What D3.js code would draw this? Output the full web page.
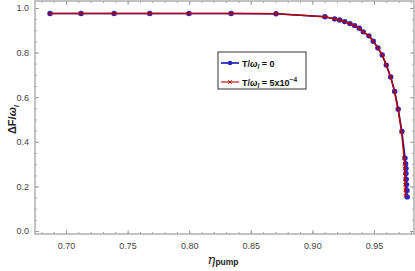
<!DOCTYPE html>
<html>
<head>
<meta charset="utf-8">
<script src="https://cdn.jsdelivr.net/npm/d3@7"></script>
<style>
  body { margin: 0; background: #fff; }
  svg { font-family: "Liberation Sans", Arial, sans-serif; }
  .tick text { fill: #444; font-size: 9px; }
</style>
</head>
<body>
<script>
var width = 415, height = 271;
var margin = { top: 1, right: 1, bottom: 37, left: 35 };

// T/omega = 0
var etaA = [0.687, 0.7122, 0.739, 0.768, 0.7998, 0.834, 0.8705, 0.9102, 0.9181, 0.9222, 0.9262, 0.9305,
            0.9343, 0.9381, 0.9413, 0.9459, 0.9494, 0.9532, 0.9567, 0.9600, 0.9636, 0.9668, 0.9697,
            0.9727, 0.9752, 0.9757, 0.9760, 0.9760, 0.9762, 0.9765, 0.9768, 0.9770];
var dfA = [0.975, 0.975, 0.975, 0.975, 0.975, 0.975, 0.974, 0.961, 0.951, 0.946, 0.939, 0.930,
           0.921, 0.909, 0.893, 0.875, 0.851, 0.821, 0.789, 0.744, 0.691, 0.626, 0.546,
           0.446, 0.327, 0.302, 0.280, 0.258, 0.232, 0.208, 0.182, 0.153];
// T/omega = 5e-4
var etaB = [0.687, 0.7122, 0.739, 0.768, 0.7998, 0.834, 0.8705, 0.9102, 0.9181, 0.9222, 0.9262, 0.9305,
            0.9343, 0.9381, 0.9413, 0.9459, 0.9494, 0.9532, 0.9567, 0.9600, 0.9635, 0.9667, 0.9695,
            0.9724, 0.9745, 0.9748, 0.9750, 0.9751, 0.9752, 0.9753, 0.9754, 0.9755];
var dfB = [0.975, 0.975, 0.975, 0.975, 0.975, 0.975, 0.974, 0.961, 0.951, 0.946, 0.939, 0.930,
           0.921, 0.909, 0.893, 0.875, 0.851, 0.821, 0.789, 0.744, 0.691, 0.626, 0.546,
           0.446, 0.327, 0.302, 0.280, 0.258, 0.232, 0.208, 0.182, 0.158];

var xTicks = [0.70, 0.75, 0.80, 0.85, 0.90, 0.95];
var yTicks = [0.0, 0.2, 0.4, 0.6, 0.8, 1.0];

var svg = d3.select('body').append('svg').attr('width', width).attr('height', height);

var x = d3.scaleLinear().domain([0.6748, 0.9825]).range([margin.left, width - margin.right]);
var y = d3.scaleLinear().domain([-0.0134, 1.0313]).range([height - margin.bottom, margin.top]);

var xMinor = d3.range(0.68, 0.981, 0.01);
var yMinor = d3.range(0, 1.0301, 0.05);

var frameCol = '#b4b4b4';

// frame ticks (inward)
function addAxis(axis, tr) {
  var g = svg.append('g').attr('transform', tr).call(axis);
  g.select('.domain').remove();
  g.selectAll('.tick line').attr('stroke', '#888').attr('stroke-width', 0.8);
  return g;
}
var bx = 'translate(0,' + (height - margin.bottom) + ')';
var tx = 'translate(0,' + margin.top + ')';
var lx = 'translate(' + margin.left + ',0)';
var rx = 'translate(' + (width - margin.right) + ',0)';

addAxis(d3.axisBottom(x).tickValues(xMinor).tickSize(-2).tickFormat(''), bx);
addAxis(d3.axisTop(x).tickValues(xMinor).tickSize(-2).tickFormat(''), tx);
addAxis(d3.axisLeft(y).tickValues(yMinor).tickSize(-2).tickFormat(''), lx);
addAxis(d3.axisRight(y).tickValues(yMinor).tickSize(-2).tickFormat(''), rx);

addAxis(d3.axisBottom(x).tickValues(xTicks).tickSize(-4).tickPadding(9).tickFormat(d3.format('.2f')), bx);
addAxis(d3.axisTop(x).tickValues(xTicks).tickSize(-4).tickFormat(''), tx);
addAxis(d3.axisLeft(y).tickValues(yTicks).tickSize(-4).tickPadding(6).tickFormat(d3.format('.1f')), lx);
addAxis(d3.axisRight(y).tickValues(yTicks).tickSize(-4).tickFormat(''), rx);

svg.append('rect')
  .attr('x', margin.left).attr('y', margin.top)
  .attr('width', width - margin.left - margin.right)
  .attr('height', height - margin.top - margin.bottom)
  .attr('fill', 'none').attr('stroke', frameCol).attr('stroke-width', 1.6);

var blue = '#1414b4', red = '#b40000';

var dataA = etaA.map(function (d, i) { return [d, dfA[i]]; });
var dataB = etaB.map(function (d, i) { return [d, dfB[i]]; });

var line = d3.line().x(function (d) { return x(d[0]); }).y(function (d) { return y(d[1]); });

svg.append('path').attr('d', line(dataA)).attr('fill', 'none').attr('stroke', blue).attr('stroke-width', 1.6);
svg.selectAll('circle.a').data(dataA).enter().append('circle').attr('class', 'a')
  .attr('cx', function (d) { return x(d[0]); })
  .attr('cy', function (d) { return y(d[1]); })
  .attr('r', 2.7).attr('fill', '#2626c8');

svg.append('path').attr('d', line(dataB)).attr('fill', 'none').attr('stroke', red).attr('stroke-width', 1.5);
var cross = d3.symbol().type(d3.symbolX).size(9);
svg.selectAll('path.b').data(dataB).enter().append('path').attr('class', 'b')
  .attr('d', cross)
  .attr('transform', function (d) { return 'translate(' + x(d[0]) + ',' + y(d[1]) + ')'; })
  .attr('fill', 'none').attr('stroke', red).attr('stroke-width', 1);

// legend
var lg = svg.append('g').attr('transform', 'translate(218,52)');
lg.append('rect').attr('width', 88).attr('height', 37).attr('fill', '#fff')
  .attr('stroke', '#333').attr('stroke-width', 1);
lg.append('line').attr('x1', 3).attr('x2', 21).attr('y1', 11).attr('y2', 11).attr('stroke', blue).attr('stroke-width', 1.6);
lg.append('circle').attr('cx', 12).attr('cy', 11).attr('r', 2.3).attr('fill', '#2626c8');
lg.append('line').attr('x1', 3).attr('x2', 21).attr('y1', 30).attr('y2', 30).attr('stroke', '#d05050').attr('stroke-width', 1.6);
lg.append('path').attr('d', cross).attr('transform', 'translate(12,30)').attr('fill', 'none').attr('stroke', red).attr('stroke-width', 1);

function legendText(yy, tail) {
  var t = lg.append('text').attr('x', 24).attr('y', yy).attr('font-size', 9).attr('font-weight', 'bold').attr('fill', '#111');
  t.append('tspan').text('T/');
  t.append('tspan').attr('font-style', 'italic').text('ω');
  t.append('tspan').attr('font-style', 'italic').attr('font-size', 6.5).attr('dy', 2).text('l');
  t.append('tspan').attr('dy', -2).text(' = ' + tail.base);
  if (tail.sup) t.append('tspan').attr('font-size', 6.5).attr('dy', -4).text(tail.sup);
}
legendText(14.5, { base: '0' });
legendText(33.5, { base: '5x10', sup: '−4' });

// axis labels
var yl = svg.append('text').attr('transform', 'translate(16,' + y(0.5) + ') rotate(-90)')
  .attr('text-anchor', 'middle').attr('font-size', 11).attr('font-weight', 'bold').attr('fill', '#222');
yl.append('tspan').text('ΔF/');
yl.append('tspan').attr('font-style', 'italic').text('ω');
yl.append('tspan').attr('font-style', 'italic').attr('font-size', 8).attr('dy', 3).text('l');

var xl = svg.append('text').attr('x', x(0.8275)).attr('y', 264)
  .attr('text-anchor', 'middle').attr('fill', '#222');
xl.append('tspan').attr('font-style', 'italic').attr('font-size', 13).attr('font-family', '"DejaVu Serif", serif').text('η');
xl.append('tspan').attr('font-size', 8.5).attr('font-weight', 'bold').attr('dy', 1).text('pump');
</script>
</body>
</html>
